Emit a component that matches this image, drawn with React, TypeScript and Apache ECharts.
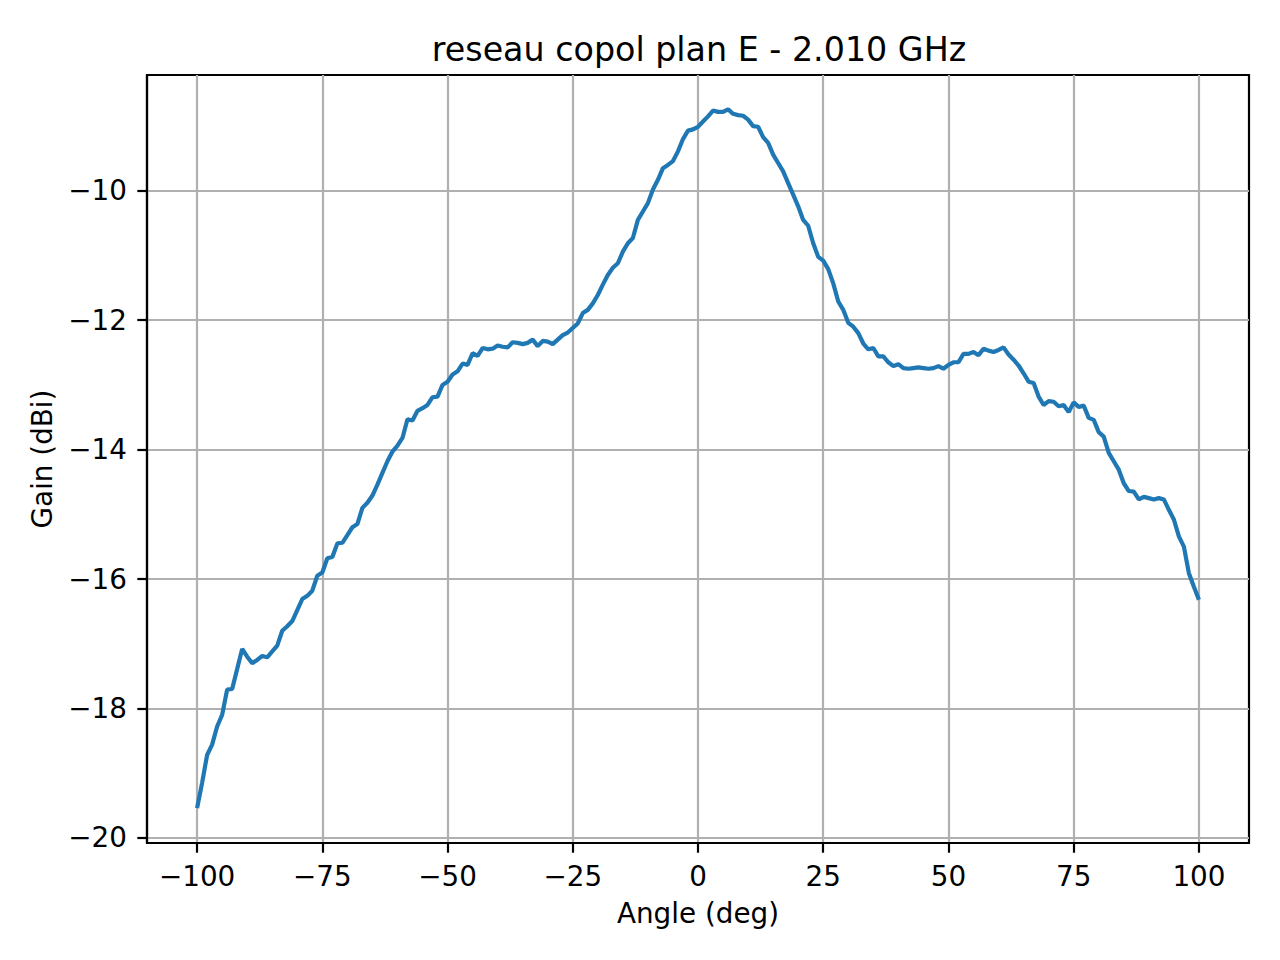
import React, { useEffect, useRef } from 'react';
import * as echarts from 'echarts';

// angles in degrees, one sample per degree
const angles: number[] = [
  -100, -99, -98, -97, -96, -95, -94, -93, -92, -91,
  -90, -89, -88, -87, -86, -85, -84, -83, -82, -81,
  -80, -79, -78, -77, -76, -75, -74, -73, -72, -71,
  -70, -69, -68, -67, -66, -65, -64, -63, -62, -61,
  -60, -59, -58, -57, -56, -55, -54, -53, -52, -51,
  -50, -49, -48, -47, -46, -45, -44, -43, -42, -41,
  -40, -39, -38, -37, -36, -35, -34, -33, -32, -31,
  -30, -29, -28, -27, -26, -25, -24, -23, -22, -21,
  -20, -19, -18, -17, -16, -15, -14, -13, -12, -11,
  -10, -9, -8, -7, -6, -5, -4, -3, -2, -1,
  0, 1, 2, 3, 4, 5, 6, 7, 8, 9,
  10, 11, 12, 13, 14, 15, 16, 17, 18, 19,
  20, 21, 22, 23, 24, 25, 26, 27, 28, 29,
  30, 31, 32, 33, 34, 35, 36, 37, 38, 39,
  40, 41, 42, 43, 44, 45, 46, 47, 48, 49,
  50, 51, 52, 53, 54, 55, 56, 57, 58, 59,
  60, 61, 62, 63, 64, 65, 66, 67, 68, 69,
  70, 71, 72, 73, 74, 75, 76, 77, 78, 79,
  80, 81, 82, 83, 84, 85, 86, 87, 88, 89,
  90, 91, 92, 93, 94, 95, 96, 97, 98, 99,
  100,
];

// gain in dBi
const gain: number[] = [
  -19.54, -19.15, -18.72, -18.56, -18.28, -18.10, -17.71, -17.70, -17.39, -17.08,
  -17.20, -17.30, -17.25, -17.19, -17.21, -17.12, -17.03, -16.80, -16.73, -16.65,
  -16.48, -16.31, -16.26, -16.18, -15.95, -15.90, -15.68, -15.66, -15.45, -15.44,
  -15.32, -15.20, -15.15, -14.90, -14.82, -14.71, -14.54, -14.36, -14.18, -14.03,
  -13.94, -13.82, -13.53, -13.55, -13.40, -13.36, -13.31, -13.19, -13.18, -13.00,
  -12.95, -12.84, -12.79, -12.67, -12.69, -12.51, -12.55, -12.43, -12.45, -12.44,
  -12.39, -12.41, -12.42, -12.34, -12.35, -12.37, -12.35, -12.30, -12.40, -12.32,
  -12.33, -12.37, -12.30, -12.23, -12.19, -12.12, -12.05, -11.89, -11.84, -11.74,
  -11.61, -11.45, -11.30, -11.19, -11.12, -10.94, -10.81, -10.73, -10.45, -10.32,
  -10.19, -9.98, -9.83, -9.65, -9.60, -9.54, -9.39, -9.20, -9.07, -9.05,
  -9.01, -8.93, -8.85, -8.76, -8.78, -8.78, -8.74, -8.81, -8.83, -8.84,
  -8.90, -9.00, -9.01, -9.17, -9.26, -9.44, -9.57, -9.70, -9.88, -10.06,
  -10.24, -10.45, -10.54, -10.81, -11.02, -11.08, -11.21, -11.43, -11.71, -11.84,
  -12.04, -12.10, -12.20, -12.36, -12.45, -12.43, -12.56, -12.56, -12.65, -12.71,
  -12.68, -12.74, -12.75, -12.74, -12.73, -12.74, -12.75, -12.74, -12.71, -12.75,
  -12.69, -12.65, -12.65, -12.52, -12.52, -12.49, -12.54, -12.44, -12.47, -12.49,
  -12.46, -12.42, -12.53, -12.61, -12.70, -12.82, -12.95, -12.97, -13.18, -13.31,
  -13.25, -13.26, -13.33, -13.31, -13.42, -13.27, -13.34, -13.32, -13.51, -13.54,
  -13.73, -13.80, -14.05, -14.18, -14.31, -14.52, -14.64, -14.65, -14.77, -14.73,
  -14.75, -14.77, -14.75, -14.77, -14.93, -15.08, -15.34, -15.50, -15.91, -16.12,
  -16.32,
];

const xTicks = [-100, -75, -50, -25, 0, 25, 50, 75, 100];
const yTicks = [-20, -18, -16, -14, -12, -10];

const FONT = 'DejaVu Sans';
const minus = (v: number | string) => String(v).replace('-', '\u2212');

const App: React.FC = () => {
  const chartRef = useRef<HTMLDivElement | null>(null);

  useEffect(() => {
    if (!chartRef.current) return;
    const chart = echarts.init(chartRef.current, undefined, { renderer: 'svg' });

    const axisCommon = {
      axisLine: { show: true, onZero: false, lineStyle: { color: '#000', width: 2.2 } },
      axisTick: { show: true, inside: false, length: 9.7, lineStyle: { color: '#000', width: 2.2 } },
      splitLine: { show: true, lineStyle: { color: '#b0b0b0', width: 2.2 } },
      nameTextStyle: { fontFamily: FONT, fontSize: 27.8, color: '#000' },
    };

    chart.setOption({
      animation: false,
      backgroundColor: '#fff',
      title: {
        text: 'reseau copol plan E - 2.010 GHz',
        left: 694,
        top: 28,
        textAlign: 'center',
        textStyle: { fontFamily: FONT, fontSize: 33.3, fontWeight: 'normal', color: '#000' },
      },
      grid: {
        left: 147,
        right: 31,
        top: 75,
        bottom: 117,
        show: true,
        borderColor: '#000',
        borderWidth: 2.2,
        containLabel: false,
      },
      xAxis: {
        ...axisCommon,
        type: 'value',
        min: -110,
        max: 110,
        name: 'Angle (deg)',
        nameLocation: 'middle',
        nameGap: 56,
        axisTick: { ...axisCommon.axisTick, customValues: xTicks },
        axisLabel: {
          customValues: xTicks,
          margin: 19,
          fontFamily: FONT,
          fontSize: 27.8,
          color: '#000',
          formatter: (v: number) => minus(v),
        },
      },
      yAxis: {
        ...axisCommon,
        type: 'value',
        min: -20.08,
        max: -8.21,
        name: 'Gain (dBi)',
        nameLocation: 'middle',
        nameGap: 91,
        axisTick: { ...axisCommon.axisTick, customValues: yTicks },
        axisLabel: {
          customValues: yTicks,
          margin: 20,
          fontFamily: FONT,
          fontSize: 27.8,
          color: '#000',
          formatter: (v: number) => minus(v),
        },
      },
      series: [
        {
          type: 'line',
          data: angles.map((a, i) => [a, gain[i]]),
          symbol: 'none',
          lineStyle: { color: '#1f77b4', width: 4.2 },
        },
      ],
    });

    return () => {
      chart.dispose();
    };
  }, []);

  return (
    <div
      ref={chartRef}
      style={{ position: 'fixed', left: 0, top: 0, width: '1280px', height: '960px' }}
    />
  );
};

export default App;
